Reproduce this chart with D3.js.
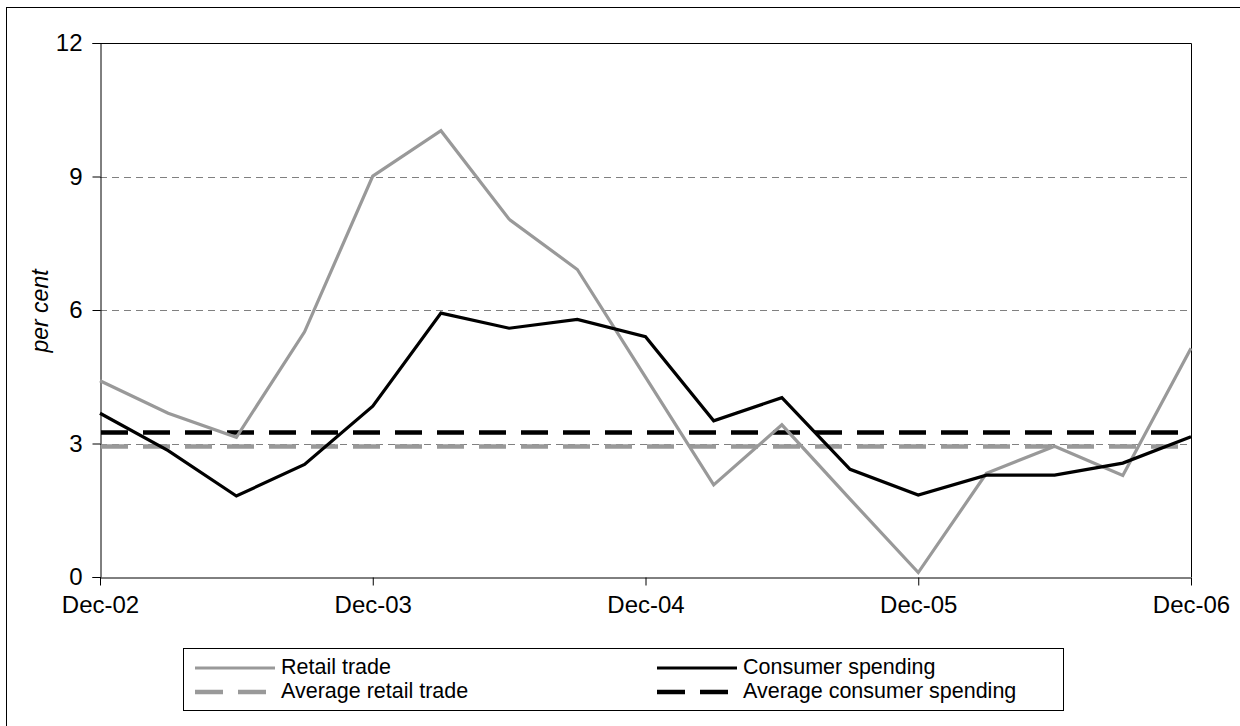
<!DOCTYPE html>
<html>
<head>
<meta charset="utf-8">
<script src="https://cdn.jsdelivr.net/npm/d3@7"></script>
<style>
  html, body { margin: 0; padding: 0; background: #fff; }
  svg { display: block; font-family: "Liberation Sans", Arial, sans-serif; }
</style>
</head>
<body>
<svg id="chart" width="1240" height="726"></svg>
<script>
// Quarterly observations, Dec-02 to Dec-06
const quarters = ["Dec-02","Mar-03","Jun-03","Sep-03","Dec-03","Mar-04","Jun-04","Sep-04",
                  "Dec-04","Mar-05","Jun-05","Sep-05","Dec-05","Mar-06","Jun-06","Sep-06","Dec-06"];
const retailTrade = [4.41, 3.68, 3.14, 5.51, 9.01, 10.03, 8.04, 6.91, 4.49, 2.07, 3.42, 1.75, 0.1, 2.33, 2.94, 2.28, 5.14];
const consumerSpending = [3.68, 2.84, 1.82, 2.53, 3.84, 5.93, 5.59, 5.79, 5.40, 3.51, 4.03, 2.42, 1.84, 2.29, 2.29, 2.56, 3.15];
const averageRetailTrade = 2.93;
const averageConsumerSpending = 3.25;
const xTickLabels = ["Dec-02","Dec-03","Dec-04","Dec-05","Dec-06"];
const yTickValues = [0, 3, 6, 9, 12];

const svg = d3.select("#chart");
const plotLeft = 100, plotRight = 1191, plotTop = 43, plotBottom = 577;

// Outer chart frame
svg.append("rect")
  .attr("x", 6.5).attr("y", 7.5)
  .attr("width", 1260).attr("height", 740)
  .attr("fill", "none").attr("stroke", "#000").attr("stroke-width", 1);

const x = d3.scalePoint().domain(quarters).range([plotLeft, plotRight]);
const y = d3.scaleLinear().domain([0, 12]).range([plotBottom, plotTop]);

// Horizontal gridlines
svg.append("g").selectAll("line")
  .data(yTickValues.filter(v => v > 0 && v < 12))
  .join("line")
  .attr("x1", plotLeft).attr("x2", plotRight)
  .attr("y1", d => Math.round(y(d)) + 0.5).attr("y2", d => Math.round(y(d)) + 0.5)
  .attr("stroke", "#808080").attr("stroke-width", 1)
  .attr("stroke-dasharray", "7,5");

// Plot area frame (top and right)
svg.append("path")
  .attr("d", `M${plotLeft},${plotTop + 0.5}H${plotRight + 0.5}V${plotBottom}`)
  .attr("fill", "none").attr("stroke", "#000").attr("stroke-width", 1);

// Y axis
const yAxis = svg.append("g")
  .attr("transform", `translate(${plotLeft + 0.5},0)`)
  .call(d3.axisLeft(y).tickValues(yTickValues).tickSize(8).tickPadding(10).tickFormat(d3.format("d")));
yAxis.select(".domain").attr("stroke", "#000");
yAxis.selectAll(".tick line").attr("stroke", "#000");
yAxis.selectAll(".tick text")
  .attr("font-size", 24).attr("fill", "#000")
  .attr("font-family", "Liberation Sans, Arial, sans-serif");

// X axis
const xAxis = svg.append("g")
  .attr("transform", `translate(0,${plotBottom + 0.5})`)
  .call(d3.axisBottom(x).tickValues(xTickLabels).tickSize(8).tickPadding(10).tickSizeOuter(0));
xAxis.select(".domain").attr("stroke", "#000");
xAxis.selectAll(".tick line").attr("stroke", "#000");
xAxis.selectAll(".tick text")
  .attr("font-size", 24).attr("fill", "#000")
  .attr("font-family", "Liberation Sans, Arial, sans-serif");

// Y axis title
svg.append("text")
  .attr("transform", "translate(48,311) rotate(-90)")
  .attr("text-anchor", "middle")
  .attr("font-size", 23).attr("font-style", "italic")
  .text("per cent");

// Average lines
const avgLines = [
  { value: averageRetailTrade, color: "#999999" },
  { value: averageConsumerSpending, color: "#000000" }
];
svg.append("g").selectAll("line")
  .data(avgLines)
  .join("line")
  .attr("x1", plotLeft + 1).attr("x2", plotRight - 2)
  .attr("y1", d => y(d.value)).attr("y2", d => y(d.value))
  .attr("stroke", d => d.color).attr("stroke-width", 4.5)
  .attr("stroke-dasharray", "27,15");

// Series lines
const line = d3.line().x((d, i) => x(quarters[i])).y(d => y(d));
svg.append("path")
  .datum(retailTrade)
  .attr("d", line)
  .attr("fill", "none").attr("stroke", "#999999").attr("stroke-width", 3.2)
  .attr("stroke-linejoin", "miter");
svg.append("path")
  .datum(consumerSpending)
  .attr("d", line)
  .attr("fill", "none").attr("stroke", "#000000").attr("stroke-width", 3.2)
  .attr("stroke-linejoin", "miter");

// Legend
const legend = svg.append("g");
legend.append("rect")
  .attr("x", 183.5).attr("y", 648.5).attr("width", 880).attr("height", 62)
  .attr("fill", "#fff").attr("stroke", "#000").attr("stroke-width", 1);

const legendItems = [
  { label: "Retail trade", color: "#999999", dash: null, x: 195, y: 668 },
  { label: "Average retail trade", color: "#999999", dash: "28,15", x: 195, y: 692 },
  { label: "Consumer spending", color: "#000000", dash: null, x: 657, y: 668 },
  { label: "Average consumer spending", color: "#000000", dash: "28,15", x: 657, y: 692 }
];
const li = legend.selectAll("g.item").data(legendItems).join("g").attr("class", "item");
li.append("line")
  .attr("x1", d => d.x).attr("x2", d => d.x + 80)
  .attr("y1", d => d.y).attr("y2", d => d.y)
  .attr("stroke", d => d.color)
  .attr("stroke-width", d => d.dash ? 4.5 : 3.2)
  .attr("stroke-dasharray", d => d.dash);
li.append("text")
  .attr("x", d => d.x + 86).attr("y", d => d.y + 6)
  .attr("font-size", 21.5).attr("fill", "#000")
  .text(d => d.label);
</script>
</body>
</html>
